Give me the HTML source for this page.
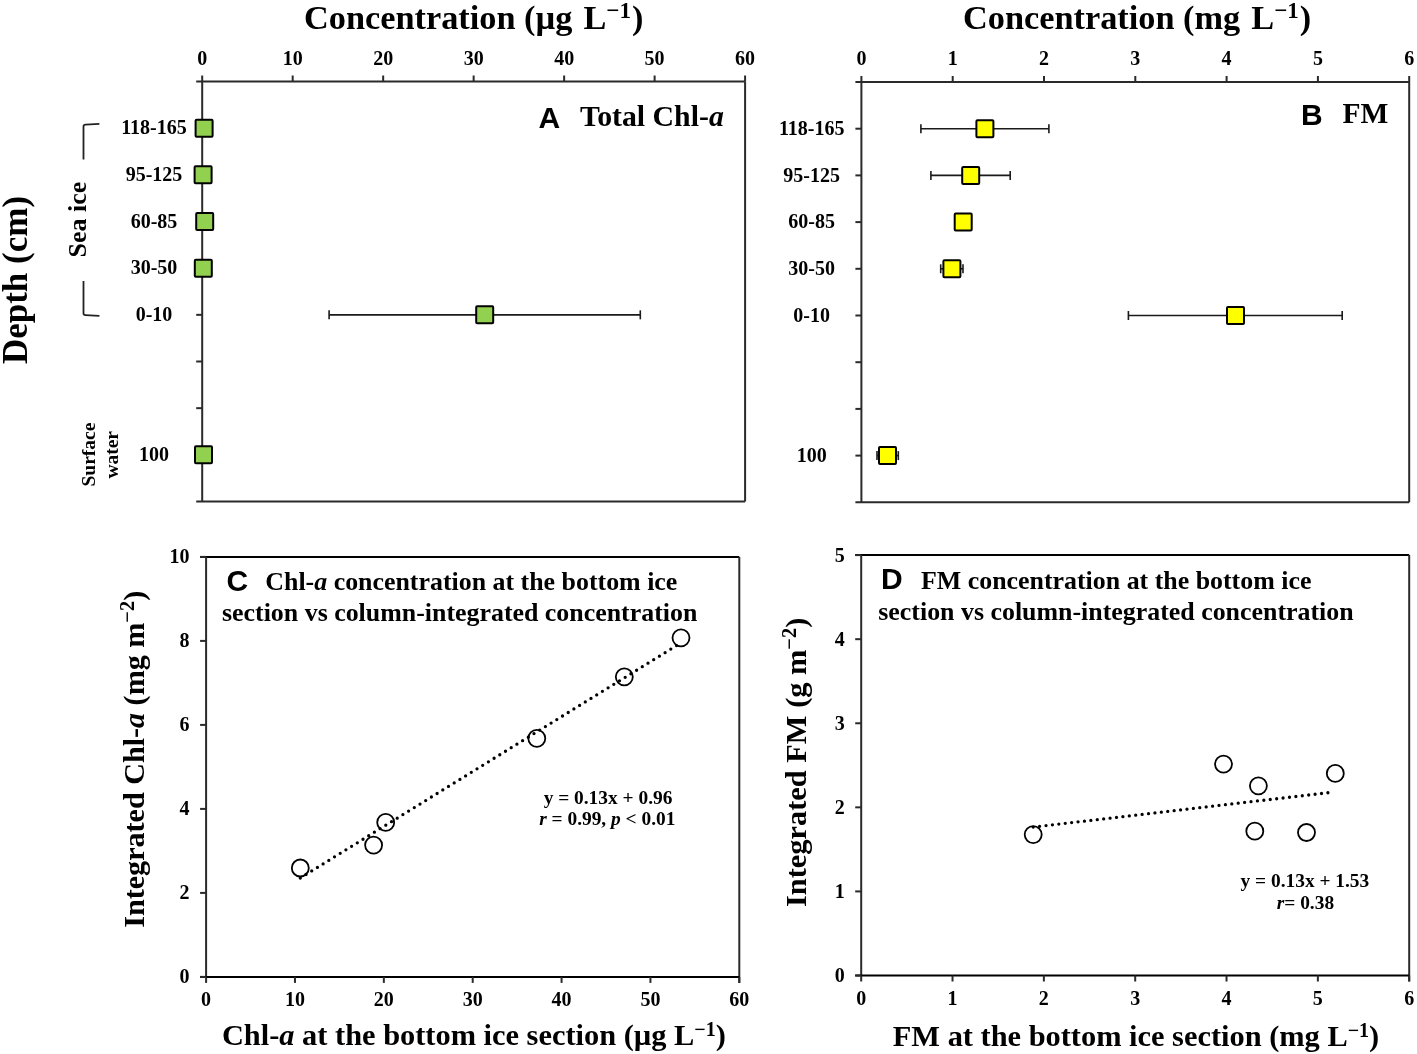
<!DOCTYPE html><html><head><meta charset="utf-8"><style>html,body{margin:0;padding:0;background:#fff;}svg{display:block;will-change:transform;}</style></head><body>
<svg width="1417" height="1054" viewBox="0 0 1417 1054">
<rect width="1417" height="1054" fill="#fff"/>
<line x1="196.2" y1="81.5" x2="745.1" y2="81.5" stroke="#2a2a2a" stroke-width="2" />
<line x1="202.2" y1="81.5" x2="202.2" y2="501.5" stroke="#2a2a2a" stroke-width="2" />
<line x1="745.1" y1="81.5" x2="745.1" y2="501.5" stroke="#2a2a2a" stroke-width="2" />
<line x1="196.2" y1="501.5" x2="745.1" y2="501.5" stroke="#2a2a2a" stroke-width="2" />
<line x1="202.2" y1="75.5" x2="202.2" y2="81.5" stroke="#2a2a2a" stroke-width="2" />
<text x="202.2" y="64.5" font-size="20" text-anchor="middle" font-weight="bold" style='font-family:"Liberation Serif", serif' >0</text>
<line x1="292.68333333333334" y1="75.5" x2="292.68333333333334" y2="81.5" stroke="#2a2a2a" stroke-width="2" />
<text x="292.68333333333334" y="64.5" font-size="20" text-anchor="middle" font-weight="bold" style='font-family:"Liberation Serif", serif' >10</text>
<line x1="383.1666666666667" y1="75.5" x2="383.1666666666667" y2="81.5" stroke="#2a2a2a" stroke-width="2" />
<text x="383.1666666666667" y="64.5" font-size="20" text-anchor="middle" font-weight="bold" style='font-family:"Liberation Serif", serif' >20</text>
<line x1="473.65000000000003" y1="75.5" x2="473.65000000000003" y2="81.5" stroke="#2a2a2a" stroke-width="2" />
<text x="473.65000000000003" y="64.5" font-size="20" text-anchor="middle" font-weight="bold" style='font-family:"Liberation Serif", serif' >30</text>
<line x1="564.1333333333334" y1="75.5" x2="564.1333333333334" y2="81.5" stroke="#2a2a2a" stroke-width="2" />
<text x="564.1333333333334" y="64.5" font-size="20" text-anchor="middle" font-weight="bold" style='font-family:"Liberation Serif", serif' >40</text>
<line x1="654.6166666666668" y1="75.5" x2="654.6166666666668" y2="81.5" stroke="#2a2a2a" stroke-width="2" />
<text x="654.6166666666668" y="64.5" font-size="20" text-anchor="middle" font-weight="bold" style='font-family:"Liberation Serif", serif' >50</text>
<line x1="745.1000000000001" y1="75.5" x2="745.1000000000001" y2="81.5" stroke="#2a2a2a" stroke-width="2" />
<text x="745.1000000000001" y="64.5" font-size="20" text-anchor="middle" font-weight="bold" style='font-family:"Liberation Serif", serif' >60</text>
<line x1="196.2" y1="128.16666666666666" x2="202.2" y2="128.16666666666666" stroke="#2a2a2a" stroke-width="2" />
<line x1="196.2" y1="174.83333333333331" x2="202.2" y2="174.83333333333331" stroke="#2a2a2a" stroke-width="2" />
<line x1="196.2" y1="221.5" x2="202.2" y2="221.5" stroke="#2a2a2a" stroke-width="2" />
<line x1="196.2" y1="268.16666666666663" x2="202.2" y2="268.16666666666663" stroke="#2a2a2a" stroke-width="2" />
<line x1="196.2" y1="314.8333333333333" x2="202.2" y2="314.8333333333333" stroke="#2a2a2a" stroke-width="2" />
<line x1="196.2" y1="361.5" x2="202.2" y2="361.5" stroke="#2a2a2a" stroke-width="2" />
<line x1="196.2" y1="408.16666666666663" x2="202.2" y2="408.16666666666663" stroke="#2a2a2a" stroke-width="2" />
<line x1="196.2" y1="454.8333333333333" x2="202.2" y2="454.8333333333333" stroke="#2a2a2a" stroke-width="2" />
<text x="154" y="134.36666666666665" font-size="20" text-anchor="middle" font-weight="bold" style='font-family:"Liberation Serif", serif' >118-165</text>
<text x="154" y="181.0333333333333" font-size="20" text-anchor="middle" font-weight="bold" style='font-family:"Liberation Serif", serif' >95-125</text>
<text x="154" y="227.7" font-size="20" text-anchor="middle" font-weight="bold" style='font-family:"Liberation Serif", serif' >60-85</text>
<text x="154" y="274.3666666666666" font-size="20" text-anchor="middle" font-weight="bold" style='font-family:"Liberation Serif", serif' >30-50</text>
<text x="154" y="321.0333333333333" font-size="20" text-anchor="middle" font-weight="bold" style='font-family:"Liberation Serif", serif' >0-10</text>
<text x="154" y="461.0333333333333" font-size="20" text-anchor="middle" font-weight="bold" style='font-family:"Liberation Serif", serif' >100</text>
<line x1="855.4" y1="82" x2="1409.2" y2="82" stroke="#2a2a2a" stroke-width="2" />
<line x1="861.4" y1="82" x2="861.4" y2="502.3" stroke="#2a2a2a" stroke-width="2" />
<line x1="1409.2" y1="82" x2="1409.2" y2="502.3" stroke="#2a2a2a" stroke-width="2" />
<line x1="855.4" y1="502.3" x2="1409.2" y2="502.3" stroke="#2a2a2a" stroke-width="2" />
<line x1="861.4" y1="76" x2="861.4" y2="82" stroke="#2a2a2a" stroke-width="2" />
<text x="861.4" y="65.3" font-size="20" text-anchor="middle" font-weight="bold" style='font-family:"Liberation Serif", serif' >0</text>
<line x1="952.7" y1="76" x2="952.7" y2="82" stroke="#2a2a2a" stroke-width="2" />
<text x="952.7" y="65.3" font-size="20" text-anchor="middle" font-weight="bold" style='font-family:"Liberation Serif", serif' >1</text>
<line x1="1044.0" y1="76" x2="1044.0" y2="82" stroke="#2a2a2a" stroke-width="2" />
<text x="1044.0" y="65.3" font-size="20" text-anchor="middle" font-weight="bold" style='font-family:"Liberation Serif", serif' >2</text>
<line x1="1135.3" y1="76" x2="1135.3" y2="82" stroke="#2a2a2a" stroke-width="2" />
<text x="1135.3" y="65.3" font-size="20" text-anchor="middle" font-weight="bold" style='font-family:"Liberation Serif", serif' >3</text>
<line x1="1226.6" y1="76" x2="1226.6" y2="82" stroke="#2a2a2a" stroke-width="2" />
<text x="1226.6" y="65.3" font-size="20" text-anchor="middle" font-weight="bold" style='font-family:"Liberation Serif", serif' >4</text>
<line x1="1317.9" y1="76" x2="1317.9" y2="82" stroke="#2a2a2a" stroke-width="2" />
<text x="1317.9" y="65.3" font-size="20" text-anchor="middle" font-weight="bold" style='font-family:"Liberation Serif", serif' >5</text>
<line x1="1409.2" y1="76" x2="1409.2" y2="82" stroke="#2a2a2a" stroke-width="2" />
<text x="1409.2" y="65.3" font-size="20" text-anchor="middle" font-weight="bold" style='font-family:"Liberation Serif", serif' >6</text>
<line x1="855.4" y1="128.7" x2="861.4" y2="128.7" stroke="#2a2a2a" stroke-width="2" />
<line x1="855.4" y1="175.4" x2="861.4" y2="175.4" stroke="#2a2a2a" stroke-width="2" />
<line x1="855.4" y1="222.10000000000002" x2="861.4" y2="222.10000000000002" stroke="#2a2a2a" stroke-width="2" />
<line x1="855.4" y1="268.8" x2="861.4" y2="268.8" stroke="#2a2a2a" stroke-width="2" />
<line x1="855.4" y1="315.5" x2="861.4" y2="315.5" stroke="#2a2a2a" stroke-width="2" />
<line x1="855.4" y1="362.20000000000005" x2="861.4" y2="362.20000000000005" stroke="#2a2a2a" stroke-width="2" />
<line x1="855.4" y1="408.90000000000003" x2="861.4" y2="408.90000000000003" stroke="#2a2a2a" stroke-width="2" />
<line x1="855.4" y1="455.6" x2="861.4" y2="455.6" stroke="#2a2a2a" stroke-width="2" />
<text x="811.7" y="134.89999999999998" font-size="20" text-anchor="middle" font-weight="bold" style='font-family:"Liberation Serif", serif' >118-165</text>
<text x="811.7" y="181.6" font-size="20" text-anchor="middle" font-weight="bold" style='font-family:"Liberation Serif", serif' >95-125</text>
<text x="811.7" y="228.3" font-size="20" text-anchor="middle" font-weight="bold" style='font-family:"Liberation Serif", serif' >60-85</text>
<text x="811.7" y="275.0" font-size="20" text-anchor="middle" font-weight="bold" style='font-family:"Liberation Serif", serif' >30-50</text>
<text x="811.7" y="321.7" font-size="20" text-anchor="middle" font-weight="bold" style='font-family:"Liberation Serif", serif' >0-10</text>
<text x="811.7" y="461.8" font-size="20" text-anchor="middle" font-weight="bold" style='font-family:"Liberation Serif", serif' >100</text>
<text x="304" y="28.7" font-size="34.3" text-anchor="start" font-weight="bold" style='font-family:"Liberation Serif", serif' >Concentration (µg<tspan dx="2.5"> L</tspan><tspan dy="-10.5" font-size="23">−1</tspan><tspan dy="10.5" dx="1">)</tspan></text>
<text x="963" y="28.7" font-size="34.3" text-anchor="start" font-weight="bold" style='font-family:"Liberation Serif", serif' >Concentration (mg<tspan dx="2.5"> L</tspan><tspan dy="-10.5" font-size="23">−1</tspan><tspan dy="10.5" dx="1">)</tspan></text>
<line x1="329.1" y1="314.8333333333333" x2="640.3" y2="314.8333333333333" stroke="#1a1a1a" stroke-width="1.6" />
<line x1="329.1" y1="310.3333333333333" x2="329.1" y2="319.3333333333333" stroke="#1a1a1a" stroke-width="1.6" />
<line x1="640.3" y1="310.3333333333333" x2="640.3" y2="319.3333333333333" stroke="#1a1a1a" stroke-width="1.6" />
<rect x="195.6" y="119.66666666666666" width="17" height="17" fill="#92D050" stroke="#000" stroke-width="2" rx="1"/>
<rect x="194.6" y="166.33333333333331" width="17" height="17" fill="#92D050" stroke="#000" stroke-width="2" rx="1"/>
<rect x="196.2" y="213.0" width="17" height="17" fill="#92D050" stroke="#000" stroke-width="2" rx="1"/>
<rect x="194.8" y="259.66666666666663" width="17" height="17" fill="#92D050" stroke="#000" stroke-width="2" rx="1"/>
<rect x="476.2" y="306.3333333333333" width="17" height="17" fill="#92D050" stroke="#000" stroke-width="2" rx="1"/>
<rect x="195.0" y="446.3333333333333" width="17" height="17" fill="#92D050" stroke="#000" stroke-width="2" rx="1"/>
<line x1="920.9" y1="128.7" x2="1048.9" y2="128.7" stroke="#1a1a1a" stroke-width="1.6" />
<line x1="920.9" y1="124.19999999999999" x2="920.9" y2="133.2" stroke="#1a1a1a" stroke-width="1.6" />
<line x1="1048.9" y1="124.19999999999999" x2="1048.9" y2="133.2" stroke="#1a1a1a" stroke-width="1.6" />
<line x1="930.9" y1="175.4" x2="1010.2" y2="175.4" stroke="#1a1a1a" stroke-width="1.6" />
<line x1="930.9" y1="170.9" x2="930.9" y2="179.9" stroke="#1a1a1a" stroke-width="1.6" />
<line x1="1010.2" y1="170.9" x2="1010.2" y2="179.9" stroke="#1a1a1a" stroke-width="1.6" />
<line x1="940.7" y1="268.8" x2="963.0" y2="268.8" stroke="#1a1a1a" stroke-width="1.6" />
<line x1="940.7" y1="264.3" x2="940.7" y2="273.3" stroke="#1a1a1a" stroke-width="1.6" />
<line x1="963.0" y1="264.3" x2="963.0" y2="273.3" stroke="#1a1a1a" stroke-width="1.6" />
<line x1="1128.4" y1="315.5" x2="1342.2" y2="315.5" stroke="#1a1a1a" stroke-width="1.6" />
<line x1="1128.4" y1="311.0" x2="1128.4" y2="320.0" stroke="#1a1a1a" stroke-width="1.6" />
<line x1="1342.2" y1="311.0" x2="1342.2" y2="320.0" stroke="#1a1a1a" stroke-width="1.6" />
<line x1="877" y1="455.6" x2="898.3" y2="455.6" stroke="#1a1a1a" stroke-width="1.6" />
<line x1="877" y1="451.1" x2="877" y2="460.1" stroke="#1a1a1a" stroke-width="1.6" />
<line x1="898.3" y1="451.1" x2="898.3" y2="460.1" stroke="#1a1a1a" stroke-width="1.6" />
<rect x="976.4" y="120.19999999999999" width="17" height="17" fill="#FFFF00" stroke="#000" stroke-width="2" rx="1"/>
<rect x="962.2" y="166.9" width="17" height="17" fill="#FFFF00" stroke="#000" stroke-width="2" rx="1"/>
<rect x="954.7" y="213.60000000000002" width="17" height="17" fill="#FFFF00" stroke="#000" stroke-width="2" rx="1"/>
<rect x="943.4" y="260.3" width="17" height="17" fill="#FFFF00" stroke="#000" stroke-width="2" rx="1"/>
<rect x="1227.0" y="307.0" width="17" height="17" fill="#FFFF00" stroke="#000" stroke-width="2" rx="1"/>
<rect x="879.0" y="447.1" width="17" height="17" fill="#FFFF00" stroke="#000" stroke-width="2" rx="1"/>
<text x="538.5" y="128.3" font-size="30" text-anchor="start" font-weight="bold" style='font-family:"Liberation Sans", sans-serif' >A</text>
<text x="580" y="126.4" font-size="29.8" text-anchor="start" font-weight="bold" style='font-family:"Liberation Serif", serif' >Total Chl-<tspan font-style="italic">a</tspan></text>
<text x="1301" y="124.5" font-size="30" text-anchor="start" font-weight="bold" style='font-family:"Liberation Sans", sans-serif' >B</text>
<text x="1342.5" y="123" font-size="29.5" text-anchor="start" font-weight="bold" style='font-family:"Liberation Serif", serif' >FM</text>
<text transform="translate(26.5,280) rotate(-90)" font-size="35" text-anchor="middle" font-weight="bold" style='font-family:"Liberation Serif", serif'>Depth (cm)</text>
<text transform="translate(85.8,219.5) rotate(-90)" font-size="26" text-anchor="middle" font-weight="bold" style='font-family:"Liberation Serif", serif'>Sea ice</text>
<text transform="translate(95.1,454.6) rotate(-90)" font-size="19.5" text-anchor="middle" font-weight="bold" style='font-family:"Liberation Serif", serif'>Surface</text>
<text transform="translate(118.2,454.8) rotate(-90)" font-size="19.5" text-anchor="middle" font-weight="bold" style='font-family:"Liberation Serif", serif'>water</text>
<path d="M99.4,123.9 L85.5,124.6 Q83.5,124.7 83.5,126.5 L83.5,159.4" fill="none" stroke="#222" stroke-width="1.8"/>
<path d="M83.5,281 L83.5,313.5 Q83.5,315 85.5,315.1 L99.4,315.9" fill="none" stroke="#222" stroke-width="1.8"/>
<line x1="200.1" y1="556.9" x2="739.3" y2="556.9" stroke="#000" stroke-width="2" />
<line x1="206.1" y1="556.9" x2="206.1" y2="976.9" stroke="#2a2a2a" stroke-width="2" />
<line x1="739.3" y1="556.9" x2="739.3" y2="982.9" stroke="#2a2a2a" stroke-width="2" />
<line x1="200.1" y1="976.9" x2="739.3" y2="976.9" stroke="#000" stroke-width="2" />
<line x1="206.1" y1="976.9" x2="206.1" y2="982.9" stroke="#2a2a2a" stroke-width="2" />
<text x="206.1" y="1006.2" font-size="20" text-anchor="middle" font-weight="bold" style='font-family:"Liberation Serif", serif' >0</text>
<line x1="294.96666666666664" y1="976.9" x2="294.96666666666664" y2="982.9" stroke="#2a2a2a" stroke-width="2" />
<text x="294.96666666666664" y="1006.2" font-size="20" text-anchor="middle" font-weight="bold" style='font-family:"Liberation Serif", serif' >10</text>
<line x1="383.8333333333333" y1="976.9" x2="383.8333333333333" y2="982.9" stroke="#2a2a2a" stroke-width="2" />
<text x="383.8333333333333" y="1006.2" font-size="20" text-anchor="middle" font-weight="bold" style='font-family:"Liberation Serif", serif' >20</text>
<line x1="472.69999999999993" y1="976.9" x2="472.69999999999993" y2="982.9" stroke="#2a2a2a" stroke-width="2" />
<text x="472.69999999999993" y="1006.2" font-size="20" text-anchor="middle" font-weight="bold" style='font-family:"Liberation Serif", serif' >30</text>
<line x1="561.5666666666666" y1="976.9" x2="561.5666666666666" y2="982.9" stroke="#2a2a2a" stroke-width="2" />
<text x="561.5666666666666" y="1006.2" font-size="20" text-anchor="middle" font-weight="bold" style='font-family:"Liberation Serif", serif' >40</text>
<line x1="650.4333333333333" y1="976.9" x2="650.4333333333333" y2="982.9" stroke="#2a2a2a" stroke-width="2" />
<text x="650.4333333333333" y="1006.2" font-size="20" text-anchor="middle" font-weight="bold" style='font-family:"Liberation Serif", serif' >50</text>
<line x1="739.3" y1="976.9" x2="739.3" y2="982.9" stroke="#2a2a2a" stroke-width="2" />
<text x="739.3" y="1006.2" font-size="20" text-anchor="middle" font-weight="bold" style='font-family:"Liberation Serif", serif' >60</text>
<line x1="200.1" y1="976.9" x2="206.1" y2="976.9" stroke="#2a2a2a" stroke-width="2" />
<text x="189.6" y="983.0" font-size="20" text-anchor="end" font-weight="bold" style='font-family:"Liberation Serif", serif' >0</text>
<line x1="200.1" y1="892.9" x2="206.1" y2="892.9" stroke="#2a2a2a" stroke-width="2" />
<text x="189.6" y="899.0" font-size="20" text-anchor="end" font-weight="bold" style='font-family:"Liberation Serif", serif' >2</text>
<line x1="200.1" y1="808.9" x2="206.1" y2="808.9" stroke="#2a2a2a" stroke-width="2" />
<text x="189.6" y="815.0" font-size="20" text-anchor="end" font-weight="bold" style='font-family:"Liberation Serif", serif' >4</text>
<line x1="200.1" y1="724.9" x2="206.1" y2="724.9" stroke="#2a2a2a" stroke-width="2" />
<text x="189.6" y="731.0" font-size="20" text-anchor="end" font-weight="bold" style='font-family:"Liberation Serif", serif' >6</text>
<line x1="200.1" y1="640.9" x2="206.1" y2="640.9" stroke="#2a2a2a" stroke-width="2" />
<text x="189.6" y="647.0" font-size="20" text-anchor="end" font-weight="bold" style='font-family:"Liberation Serif", serif' >8</text>
<line x1="200.1" y1="556.9" x2="206.1" y2="556.9" stroke="#2a2a2a" stroke-width="2" />
<text x="189.6" y="563.0" font-size="20" text-anchor="end" font-weight="bold" style='font-family:"Liberation Serif", serif' >10</text>
<line x1="300.3" y1="878.0" x2="681" y2="642.8" stroke="#000" stroke-width="3.3" stroke-dasharray="0 6.7" stroke-linecap="round"/>
<circle cx="300.3" cy="868" r="8.5" fill="none" stroke="#000" stroke-width="1.8"/>
<circle cx="373.6" cy="845.1" r="8.5" fill="none" stroke="#000" stroke-width="1.8"/>
<circle cx="385.7" cy="822.4" r="8.5" fill="none" stroke="#000" stroke-width="1.8"/>
<circle cx="536.8" cy="738.3" r="8.5" fill="none" stroke="#000" stroke-width="1.8"/>
<circle cx="624.3" cy="676.8" r="8.5" fill="none" stroke="#000" stroke-width="1.8"/>
<circle cx="681" cy="637.8" r="8.5" fill="none" stroke="#000" stroke-width="1.8"/>
<text x="226.6" y="591.3" font-size="30" text-anchor="start" font-weight="bold" style='font-family:"Liberation Sans", sans-serif' >C</text>
<text x="265.3" y="590.1" font-size="25.9" text-anchor="start" font-weight="bold" style='font-family:"Liberation Serif", serif' >Chl-<tspan font-style="italic">a</tspan> concentration at the bottom ice</text>
<text x="222" y="621.1" font-size="25.9" text-anchor="start" font-weight="bold" style='font-family:"Liberation Serif", serif' >section vs column-integrated concentration</text>
<text x="608" y="803.5" font-size="19.4" text-anchor="middle" font-weight="bold" style='font-family:"Liberation Serif", serif' >y = 0.13x + 0.96</text>
<text x="607.3" y="825.1" font-size="19.4" text-anchor="middle" font-weight="bold" style='font-family:"Liberation Serif", serif' ><tspan font-style="italic">r</tspan> = 0.99, <tspan font-style="italic">p</tspan> &lt; 0.01</text>
<text transform="translate(143.9,759.2) rotate(-90)" font-size="30.1" text-anchor="middle" font-weight="bold" style='font-family:"Liberation Serif", serif'>Integrated Chl-<tspan font-style="italic">a</tspan> (mg m<tspan dy="-9.5" font-size="20.5">−2</tspan><tspan dy="9.5">)</tspan></text>
<text x="473.9" y="1045.2" font-size="30.4" text-anchor="middle" font-weight="bold" style='font-family:"Liberation Serif", serif' >Chl-<tspan font-style="italic">a</tspan> at the bottom ice section (µg L<tspan dy="-9" font-size="20">−1</tspan><tspan dy="9">)</tspan></text>
<line x1="855.2" y1="555.1" x2="1409.2" y2="555.1" stroke="#000" stroke-width="2" />
<line x1="861.2" y1="555.1" x2="861.2" y2="975.5" stroke="#2a2a2a" stroke-width="2" />
<line x1="1409.2" y1="555.1" x2="1409.2" y2="981.5" stroke="#2a2a2a" stroke-width="2" />
<line x1="855.2" y1="975.5" x2="1409.2" y2="975.5" stroke="#000" stroke-width="2" />
<line x1="861.2" y1="975.5" x2="861.2" y2="981.5" stroke="#2a2a2a" stroke-width="2" />
<text x="861.2" y="1004.8" font-size="20" text-anchor="middle" font-weight="bold" style='font-family:"Liberation Serif", serif' >0</text>
<line x1="952.5333333333334" y1="975.5" x2="952.5333333333334" y2="981.5" stroke="#2a2a2a" stroke-width="2" />
<text x="952.5333333333334" y="1004.8" font-size="20" text-anchor="middle" font-weight="bold" style='font-family:"Liberation Serif", serif' >1</text>
<line x1="1043.8666666666668" y1="975.5" x2="1043.8666666666668" y2="981.5" stroke="#2a2a2a" stroke-width="2" />
<text x="1043.8666666666668" y="1004.8" font-size="20" text-anchor="middle" font-weight="bold" style='font-family:"Liberation Serif", serif' >2</text>
<line x1="1135.2" y1="975.5" x2="1135.2" y2="981.5" stroke="#2a2a2a" stroke-width="2" />
<text x="1135.2" y="1004.8" font-size="20" text-anchor="middle" font-weight="bold" style='font-family:"Liberation Serif", serif' >3</text>
<line x1="1226.5333333333333" y1="975.5" x2="1226.5333333333333" y2="981.5" stroke="#2a2a2a" stroke-width="2" />
<text x="1226.5333333333333" y="1004.8" font-size="20" text-anchor="middle" font-weight="bold" style='font-family:"Liberation Serif", serif' >4</text>
<line x1="1317.8666666666668" y1="975.5" x2="1317.8666666666668" y2="981.5" stroke="#2a2a2a" stroke-width="2" />
<text x="1317.8666666666668" y="1004.8" font-size="20" text-anchor="middle" font-weight="bold" style='font-family:"Liberation Serif", serif' >5</text>
<line x1="1409.2" y1="975.5" x2="1409.2" y2="981.5" stroke="#2a2a2a" stroke-width="2" />
<text x="1409.2" y="1004.8" font-size="20" text-anchor="middle" font-weight="bold" style='font-family:"Liberation Serif", serif' >6</text>
<line x1="855.2" y1="975.5" x2="861.2" y2="975.5" stroke="#2a2a2a" stroke-width="2" />
<text x="844.8" y="982.3" font-size="20" text-anchor="end" font-weight="bold" style='font-family:"Liberation Serif", serif' >0</text>
<line x1="855.2" y1="891.42" x2="861.2" y2="891.42" stroke="#2a2a2a" stroke-width="2" />
<text x="844.8" y="898.2199999999999" font-size="20" text-anchor="end" font-weight="bold" style='font-family:"Liberation Serif", serif' >1</text>
<line x1="855.2" y1="807.34" x2="861.2" y2="807.34" stroke="#2a2a2a" stroke-width="2" />
<text x="844.8" y="814.14" font-size="20" text-anchor="end" font-weight="bold" style='font-family:"Liberation Serif", serif' >2</text>
<line x1="855.2" y1="723.26" x2="861.2" y2="723.26" stroke="#2a2a2a" stroke-width="2" />
<text x="844.8" y="730.06" font-size="20" text-anchor="end" font-weight="bold" style='font-family:"Liberation Serif", serif' >3</text>
<line x1="855.2" y1="639.1800000000001" x2="861.2" y2="639.1800000000001" stroke="#2a2a2a" stroke-width="2" />
<text x="844.8" y="645.98" font-size="20" text-anchor="end" font-weight="bold" style='font-family:"Liberation Serif", serif' >4</text>
<line x1="855.2" y1="555.1" x2="861.2" y2="555.1" stroke="#2a2a2a" stroke-width="2" />
<text x="844.8" y="561.9" font-size="20" text-anchor="end" font-weight="bold" style='font-family:"Liberation Serif", serif' >5</text>
<line x1="1033.2" y1="827.1" x2="1331" y2="792.4" stroke="#000" stroke-width="3.3" stroke-dasharray="0 6.45" stroke-linecap="round"/>
<circle cx="1033.2" cy="834.6" r="8.5" fill="none" stroke="#000" stroke-width="1.8"/>
<circle cx="1223.5" cy="764.1" r="8.5" fill="none" stroke="#000" stroke-width="1.8"/>
<circle cx="1258.4" cy="785.8" r="8.5" fill="none" stroke="#000" stroke-width="1.8"/>
<circle cx="1254.8" cy="831.2" r="8.5" fill="none" stroke="#000" stroke-width="1.8"/>
<circle cx="1306.5" cy="832.5" r="8.5" fill="none" stroke="#000" stroke-width="1.8"/>
<circle cx="1335.3" cy="773.4" r="8.5" fill="none" stroke="#000" stroke-width="1.8"/>
<text x="881" y="588.5" font-size="30" text-anchor="start" font-weight="bold" style='font-family:"Liberation Sans", sans-serif' >D</text>
<text x="921" y="588.7" font-size="25.9" text-anchor="start" font-weight="bold" style='font-family:"Liberation Serif", serif' >FM concentration at the bottom ice</text>
<text x="878.3" y="619.8" font-size="25.9" text-anchor="start" font-weight="bold" style='font-family:"Liberation Serif", serif' >section vs column-integrated concentration</text>
<text x="1304.9" y="886.5" font-size="19.4" text-anchor="middle" font-weight="bold" style='font-family:"Liberation Serif", serif' >y = 0.13x + 1.53</text>
<text x="1305.4" y="908.5" font-size="19.4" text-anchor="middle" font-weight="bold" style='font-family:"Liberation Serif", serif' ><tspan font-style="italic">r</tspan>= 0.38</text>
<text transform="translate(805.9,762.3) rotate(-90)" font-size="30.4" text-anchor="middle" font-weight="bold" style='font-family:"Liberation Serif", serif'>Integrated FM (g m<tspan dy="-9.5" font-size="20.5">−2</tspan><tspan dy="9.5">)</tspan></text>
<text x="1136" y="1045.5" font-size="30.4" text-anchor="middle" font-weight="bold" style='font-family:"Liberation Serif", serif' >FM at the bottom ice section (mg L<tspan dy="-9" font-size="20">−1</tspan><tspan dy="9">)</tspan></text>
</svg></body></html>
